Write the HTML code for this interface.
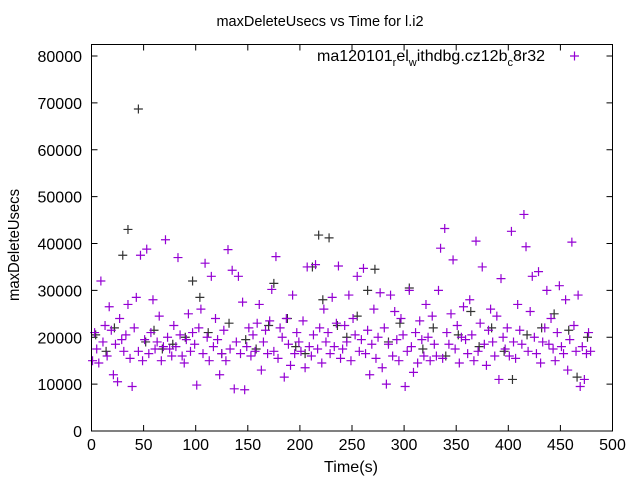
<!DOCTYPE html>
<html><head><meta charset="utf-8"><style>
body{margin:0;background:#fff}
svg{display:block;font-family:"Liberation Sans",sans-serif}
</style></head><body>
<svg id="chart" width="640" height="480" viewBox="0 0 640 480" xmlns="http://www.w3.org/2000/svg">
<rect width="640" height="480" fill="#fff"/>
<text x="320" y="26" text-anchor="middle" font-size="14.5">maxDeleteUsecs vs Time for l.i2</text>
<text transform="translate(19,245) rotate(-90)" text-anchor="middle" font-size="16" textLength="112" lengthAdjust="spacingAndGlyphs">maxDeleteUsecs</text>
<text x="351" y="472" text-anchor="middle" font-size="16" textLength="54" lengthAdjust="spacingAndGlyphs">Time(s)</text>
<g id="ticks"></g>
<g id="black"></g>
<g id="purple"></g>
<rect x="91.5" y="44.5" width="521" height="386.5" fill="none" stroke="#000" stroke-width="1"/>
<g>
<text x="545" y="61" text-anchor="end" font-size="16">ma120101<tspan font-size="11" dy="5">r</tspan><tspan dy="-5">el</tspan><tspan font-size="11" dy="5">w</tspan><tspan dy="-5">ithdbg.cz12b</tspan><tspan font-size="11" dy="5">c</tspan><tspan dy="-5">8r32</tspan></text>
<path d="M570,56h9M574.5,51.5v9" stroke="#9400d3" stroke-width="1.2"/>
</g>
</svg>
<script>
const xTicks=[0,50,100,150,200,250,300,350,400,450,500];
const yTicks=[0,10000,20000,30000,40000,50000,60000,70000,80000];
const purpleY=[15000,21000,17500,14500,32000,19000,22500,16000,26500,21500,12000,18500,10500,24000,19500,17000,20500,27000,15500,9500,
22000,28500,17000,37500,15000,19500,38800,16500,21000,28000,17500,19000,24500,15000,18000,40800,20000,17500,16000,22500,
18000,37000,20500,16000,14500,19500,25000,17000,21000,18500,9800,22000,26000,16500,35800,20000,15000,33000,18000,24000,
19500,12000,16500,21500,15000,38700,17500,34300,9000,19000,33000,16500,27500,8800,18000,22000,16000,20500,17000,23000,
27000,13000,19000,21500,16500,23500,30200,17000,37200,15500,22000,20000,11500,24000,18500,14000,29000,16500,21000,19000,
17000,23500,13500,35000,18000,16000,20500,35500,17500,22000,14500,26000,19000,21000,16500,28500,18000,23000,35200,15500,
17500,22500,19000,29000,15000,24000,20500,33000,17000,19500,34700,16500,21500,12000,18500,26000,15500,20000,29500,13500,
22000,10000,18500,29000,16000,25500,19500,15000,24000,20500,9500,17000,30000,18000,12500,21000,14500,23500,19500,16000,
27000,20000,15000,24500,18500,16000,30000,39000,15500,43200,21000,18500,25000,36500,17500,22500,14500,20000,26500,19500,
16500,28000,20500,15000,40500,17000,23000,35000,18500,14000,21500,26000,19000,16000,24500,11000,32500,20000,17500,22000,
16000,42600,19000,15500,27000,21500,18500,46200,39300,17000,25500,33000,20000,16500,34000,14500,19000,22000,30000,18500,
24000,17500,15000,21000,31000,18000,16500,28000,13000,19500,40300,22500,17000,29000,9500,18000,11000,16500,21000,17000];
const blackX=[4,14,22,30,35,45,52,60,68,78,90,97,104,112,125,132,148,158,170,175,188,196,205,212,218,222,228,236,245,255,265,272,285,296,305,318,328,340,352,364,372,384,396,404,418,432,444,458,466,476];
const blackY=[20500,17000,22000,37500,43000,68700,19000,21500,17500,18500,20000,32000,28500,21000,16500,23000,19500,17500,22500,31500,24000,18000,16500,35000,41800,28000,41200,22500,20000,24500,30000,34500,19000,23000,30500,17500,22000,16000,20500,25500,18000,22000,17000,11000,20500,22000,25000,21500,11500,20000];

const NS="http://www.w3.org/2000/svg";
const L=91.5,R=612.5,B=431,T=44.5;
function sx(v){return L+(v/500)*(R-L);}
function sy(v){return 431-v*(375/80000);}
function mk(tag,attrs,parent){const e=document.createElementNS(NS,tag);for(const k in attrs)e.setAttribute(k,attrs[k]);parent.appendChild(e);return e;}
const tg=document.getElementById('ticks');
xTicks.forEach(v=>{
  const x=sx(v);
  const t=mk('path',{d:`M${x},${B}v-6M${x},${T}v6`,stroke:'#000','stroke-width':1},tg);
  
  
  const l=mk('text',{x:x,y:450,'text-anchor':'middle','font-size':16},tg);
  l.textContent=v;
  
  
});
yTicks.forEach(v=>{
  const y=sy(v);
  const t=mk('path',{d:`M${L},${y}h6M${R},${y}h-6`,stroke:'#000','stroke-width':1},tg);
  
  
  const l=mk('text',{x:82,y:y+6,'text-anchor':'end','font-size':16},tg);
  l.textContent=v;
  
  
});
function plus(g,x,y,c,name){
  const p=mk('path',{d:`M${x-4.5},${y}h9M${x},${y-4.5}v9`,stroke:c,'stroke-width':1.2},g);
  
  
}
const bg=document.getElementById('black');
blackX.forEach((x,i)=>plus(bg,sx(x),sy(blackY[i]),'#333','point-secondary'));
const pg=document.getElementById('purple');
purpleY.forEach((v,i)=>plus(pg,sx(1+2*i),sy(v),'#9400d3','point-main'));
</script>
</body></html>
